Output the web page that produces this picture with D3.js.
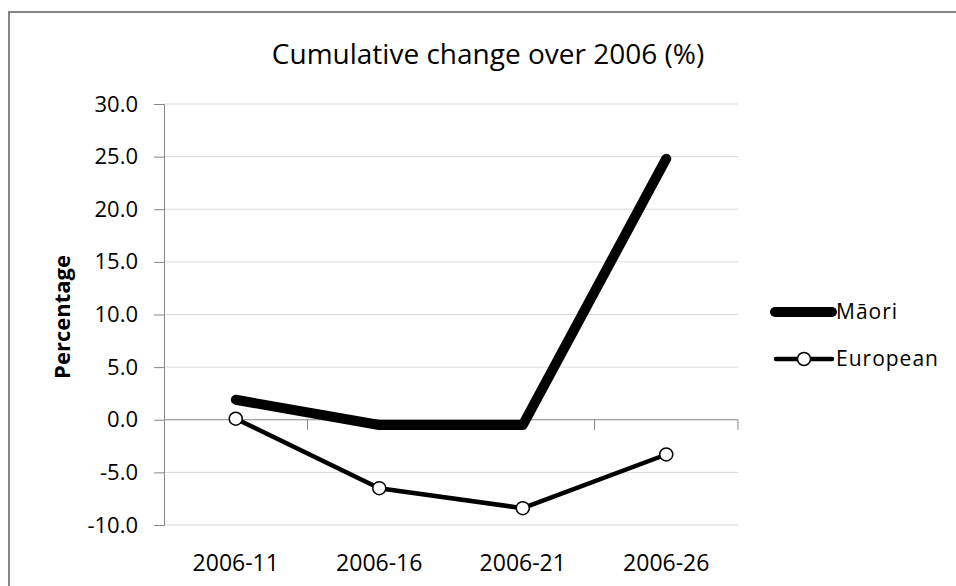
<!DOCTYPE html>
<html>
<head>
  <meta charset="utf-8">
  <title>Cumulative change over 2006 (%)</title>
  <script src="https://d3js.org/d3.v7.min.js"></script>
  <style>
    body { margin: 0; background: #fff; }
    svg text { font-family: "Open Sans", sans-serif; fill: #000; }
  </style>
</head>
<body>
  <div id="chart"></div>

  <script>
    // chart values
    const categories = ["2006-11", "2006-16", "2006-21", "2006-26"];
    const maoriValues = [1.9, -0.5, -0.5, 24.8];
    const europeanValues = [0.1, -6.5, -8.4, -3.3];
    const yTicks = [-10, -5, 0, 5, 10, 15, 20, 25, 30];
    const seriesNames = ["Māori", "European"];

    const width = 956, height = 586;

    const svg = d3.select("#chart")
      .append("svg")
      .attr("width", width)
      .attr("height", height);

    // outer frame (runs off the right and bottom edge)
    svg.append("rect")
      .attr("x", 9).attr("y", 12)
      .attr("width", 960).attr("height", 600)
      .attr("fill", "none")
      .attr("stroke", "#868686")
      .attr("stroke-width", 2);

    // scales
    const xScale = d3.scaleBand()
      .domain(categories)
      .range([164, 738]);

    const yScale = d3.scaleLinear()
      .domain([-10, 30])
      .range([525, 104]);

    const cx = d => xScale(d) + xScale.bandwidth() / 2;

    // gridlines
    svg.append("g")
      .selectAll("line")
      .data(yTicks.filter(d => d !== 0))
      .enter()
      .append("line")
      .attr("x1", 164).attr("x2", 738)
      .attr("y1", d => yScale(d)).attr("y2", d => yScale(d))
      .attr("stroke", "#d9d9d9")
      .attr("stroke-width", 1);

    // y axis
    const yAxis = svg.append("g")
      .attr("transform", "translate(164,0)")
      .call(d3.axisLeft(yScale).tickValues(yTicks).tickSize(10).tickPadding(16)
        .tickFormat(d => d.toFixed(1)));
    yAxis.select(".domain").attr("stroke", "#868686");
    yAxis.selectAll(".tick line").attr("stroke", "#868686");
    yAxis.selectAll(".tick text")
      .style("font-size", "22px")
      .style("font-family", "'Open Sans', sans-serif")
      .attr("fill", "#000");

    // x axis sits on zero, ticks at category boundaries
    const xAxisG = svg.append("g")
      .attr("transform", "translate(0," + yScale(0) + ")");
    xAxisG.append("line")
      .attr("x1", 164).attr("x2", 738)
      .attr("stroke", "#868686").attr("stroke-width", 1);
    xAxisG.selectAll(".xtick")
      .data(categories)
      .enter()
      .append("line")
      .attr("class", "xtick")
      .attr("x1", d => xScale(d) + xScale.bandwidth())
      .attr("x2", d => xScale(d) + xScale.bandwidth())
      .attr("y1", 0).attr("y2", 10)
      .attr("stroke", "#868686");

    // category labels at the bottom
    svg.append("g")
      .selectAll("text")
      .data(categories)
      .enter()
      .append("text")
      .attr("x", d => cx(d))
      .attr("y", 563)
      .attr("dy", "0.35em")
      .attr("text-anchor", "middle")
      .style("font-size", "23px")
      .text(d => d);

    // Māori line
    const line = d3.line()
      .x((d, i) => cx(categories[i]))
      .y(d => yScale(d));

    svg.append("path")
      .datum(maoriValues)
      .attr("d", line)
      .attr("fill", "none")
      .attr("stroke", "#000")
      .attr("stroke-width", 10)
      .attr("stroke-linecap", "round")
      .attr("stroke-linejoin", "round");

    // European line + markers
    svg.append("path")
      .datum(europeanValues)
      .attr("d", line)
      .attr("fill", "none")
      .attr("stroke", "#000")
      .attr("stroke-width", 4.5)
      .attr("stroke-linejoin", "round");

    svg.append("g")
      .selectAll("circle")
      .data(europeanValues)
      .enter()
      .append("circle")
      .attr("cx", (d, i) => cx(categories[i]))
      .attr("cy", d => yScale(d))
      .attr("r", 6.5)
      .attr("fill", "#fff")
      .attr("stroke", "#000")
      .attr("stroke-width", 1.5);

    // title
    svg.append("text")
      .attr("x", 488)
      .attr("y", 64)
      .attr("text-anchor", "middle")
      .style("font-size", "28px")
      .text("Cumulative change over 2006 (%)");

    // y axis title
    svg.append("text")
      .attr("transform", "translate(70,317) rotate(-90)")
      .attr("text-anchor", "middle")
      .style("font-size", "22px")
      .style("font-weight", "bold")
      .text("Percentage");

    // legend
    const legend = svg.append("g");
    const legendY = [312, 359];

    legend.append("line")
      .attr("x1", 775).attr("x2", 832)
      .attr("y1", legendY[0]).attr("y2", legendY[0])
      .attr("stroke", "#000").attr("stroke-width", 10)
      .attr("stroke-linecap", "round");

    legend.append("line")
      .attr("x1", 776).attr("x2", 832)
      .attr("y1", legendY[1]).attr("y2", legendY[1])
      .attr("stroke", "#000").attr("stroke-width", 4.5)
      .attr("stroke-linecap", "round");

    legend.append("circle")
      .attr("cx", 804).attr("cy", legendY[1])
      .attr("r", 6.5)
      .attr("fill", "#fff").attr("stroke", "#000").attr("stroke-width", 1.5);

    legend.selectAll("text")
      .data(seriesNames)
      .enter()
      .append("text")
      .attr("x", 836)
      .attr("y", (d, i) => legendY[i])
      .attr("dy", "0.35em")
      .style("font-size", "21px")
      .style("letter-spacing", "1px")
      .text(d => d);
  </script>
</body>
</html>
